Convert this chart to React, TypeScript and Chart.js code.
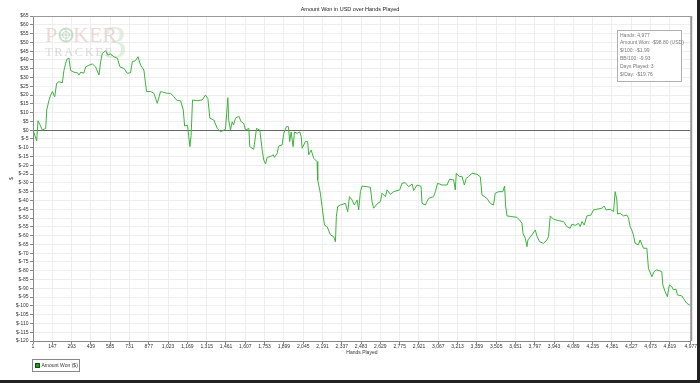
import React, { useEffect, useRef } from "react";
import { Chart, registerables } from "chart.js";

Chart.register(...registerables);

const chartTitle = "Amount Won in USD over Hands Played";
const xAxisTitle = "Hands Played";
const yAxisTitle = "$";
const legendLabel = "Amount Won ($)";
const infoLines = [
  "Hands: 4,977",
  "Amount Won: -$98.80 (USD)",
  "$/100: -$1.99",
  "BB/100: -9.93",
  "Days Played: 3",
  "$/Day: -$19.76",
];

const xTickValues = [
  1, 147, 293, 439, 585, 731, 877, 1023, 1169, 1315, 1461, 1607, 1753, 1899, 2045, 2191, 2337,
  2483, 2629, 2775, 2921, 3067, 3213, 3359, 3505, 3651, 3797, 3943, 4089, 4235, 4381, 4527, 4673,
  4819, 4977,
];

const yMin = -120;
const yMax = 65;
const yStep = 5;

const hands = [
  1, 29, 39, 54, 72, 97, 105, 122, 135, 148, 165, 180, 197, 223, 235, 256, 273, 286, 311, 337,
  349, 362, 386, 399, 424, 450, 475, 500, 513, 526, 550, 568, 588, 613, 639, 659, 689, 714, 739,
  752, 777, 795, 815, 840, 860, 891, 916, 941, 966, 991, 1017, 1042, 1067, 1092, 1117, 1138, 1148,
  1170, 1188, 1197, 1208, 1243, 1281, 1306, 1324, 1339, 1369, 1395, 1420, 1457, 1475, 1482, 1495,
  1508, 1518, 1533, 1558, 1576, 1596, 1609, 1634, 1641, 1671, 1692, 1717, 1735, 1747, 1760, 1773,
  1798, 1818, 1828, 1848, 1860, 1886, 1898, 1918, 1933, 1943, 1954, 1969, 1979, 1999, 2019, 2030,
  2037, 2062, 2079, 2087, 2105, 2125, 2150, 2155, 2175, 2188, 2206, 2226, 2251, 2276, 2289, 2296,
  2306, 2327, 2364, 2382, 2395, 2415, 2432, 2453, 2465, 2478, 2490, 2528, 2553, 2566, 2578, 2604,
  2629, 2642, 2667, 2680, 2705, 2730, 2775, 2793, 2818, 2843, 2869, 2881, 2906, 2937, 2944, 2969,
  2994, 3032, 3045, 3062, 3095, 3133, 3153, 3183, 3196, 3203, 3228, 3246, 3264, 3279, 3296, 3322,
  3360, 3385, 3398, 3435, 3460, 3485, 3498, 3523, 3555, 3569, 3576, 3587, 3624, 3662, 3682, 3700,
  3708, 3725, 3738, 3745, 3776, 3801, 3813, 3833, 3863, 3889, 3901, 3914, 3939, 3977, 4015, 4040,
  4065, 4078, 4103, 4128, 4141, 4154, 4171, 4191, 4222, 4241, 4267, 4305, 4322, 4337, 4368, 4393,
  4405, 4418, 4423, 4443, 4468, 4494, 4506, 4519, 4531, 4543, 4556, 4581, 4594, 4619, 4645, 4657,
  4683, 4700, 4720, 4758, 4766, 4783, 4800, 4815, 4833, 4846, 4866, 4876, 4909, 4921, 4947, 4967,
  4977,
];

const amountWon = [
  0, -6, 5.4, 3, 0, 1, 11.5, 17, 20, 22, 19, 26.7, 27.6, 27, 34, 40.3, 41, 34, 33, 32.7, 31.4, 33,
  32.5, 36, 37, 37.7, 36, 31.4, 39, 43.8, 45.2, 42.8, 43.4, 41.8, 41, 36, 35.2, 32.4, 32.7, 39,
  39.6, 41.8, 37, 34.2, 22, 22, 21, 15.3, 22, 21.5, 21, 21, 19, 16.8, 16.8, 11.5, 2.4, 2.8, -9.4,
  -3, 17.2, 16.8, 17.2, 20, 18, 6.8, 5.8, 1, -0.9, 0.5, 18.5, 5.8, 0, 4.8, 3, 6.8, 8, 4.8, 3.8, 0,
  1, -9.4, -10.9, 1, 0, -11.3, -17, -19.2, -15.4, -15, -14, -15.5, -13.2, -9, -8.4, -1.8, 2, 2,
  -6.5, -1, -9.4, -1, -1.8, -1, -3.7, -10.3, -6.5, -6.5, -14, -11.3, -16, -17.9, -28.3, -35.9,
  -43.5, -54, -54.9, -59.6, -60.6, -63.5, -49.2, -43.5, -42.6, -41.6, -46.4, -37.8, -39.7, -42.6,
  -39.7, -45.4, -35, -31.8, -32.2, -32.5, -40.7, -44.4, -42, -40.7, -35.9, -37.8, -34, -36.5, -35,
  -34, -30.2, -29.9, -32.2, -30.6, -34.4, -31.2, -32, -41.6, -42.6, -38.8, -37.8, -35, -30.2,
  -31.2, -31.2, -27.9, -28.3, -34, -24.5, -26.5, -26.2, -31.2, -27.4, -26.5, -24.5, -25.1, -26.5,
  -36.9, -38.8, -41.6, -42.6, -35.9, -35, -35, -31.8, -42.6, -48.8, -49.2, -49.6, -51.1, -53,
  -58.7, -61.5, -66.3, -62.5, -59.6, -56.8, -60.2, -63.5, -64.4, -62.5, -60.6, -48.8, -50.7,
  -51.5, -52, -54.9, -55.8, -53.5, -54.2, -53, -54.9, -52, -54, -48.8, -48.3, -45.4, -45, -44.4,
  -43.2, -45.4, -45, -46.4, -35, -39.7, -47.7, -47.3, -48.8, -48.3, -50.1, -54.9, -56.8, -59.6,
  -64.4, -65.3, -62.5, -67.2, -67.2, -78.6, -83.4, -80.5, -79.5, -80.5, -88.1, -91.9, -94.8, -88.1,
  -89, -90.9, -90.5, -93.8, -94.3, -95.7, -98.5, -99.5, -98.8,
];

const FONT = '"Liberation Sans", Arial, sans-serif';

const overlayPlugin = {
  id: "overlay",
  beforeDatasetsDraw(chart: any) {
    const ctx = chart.ctx as CanvasRenderingContext2D;
    ctx.save();
    // watermark "3"
    ctx.font = '46px "Liberation Serif", serif';
    ctx.fillStyle = "rgba(200,225,200,0.55)";
    ctx.textBaseline = "alphabetic";
    ctx.fillText("3", 104, 58);
    // POKER
    ctx.font = '22px "Liberation Serif", serif';
    ctx.fillStyle = "rgba(225,190,190,0.6)";
    ctx.fillText("P", 45, 42);
    ctx.fillText("KER", 73, 42);
    // chip
    ctx.strokeStyle = "rgba(170,200,170,0.6)";
    ctx.lineWidth = 2;
    ctx.beginPath();
    ctx.arc(66, 35, 6.5, 0, Math.PI * 2);
    ctx.stroke();
    ctx.lineWidth = 1;
    ctx.beginPath();
    ctx.arc(66, 35, 3.5, 0, Math.PI * 2);
    ctx.stroke();
    ctx.beginPath();
    ctx.moveTo(59.5, 35);
    ctx.lineTo(72.5, 35);
    ctx.moveTo(66, 28.5);
    ctx.lineTo(66, 41.5);
    ctx.stroke();
    // TRACKER
    ctx.font = '12.5px "Liberation Serif", serif';
    ctx.fillStyle = "rgba(200,200,200,0.65)";
    (ctx as any).letterSpacing = "1.6px";
    ctx.fillText("TRACKER", 45, 55.5);
    (ctx as any).letterSpacing = "0px";
    ctx.restore();
  },
  afterDraw(chart: any) {
    const ctx = chart.ctx as CanvasRenderingContext2D;
    const area = chart.chartArea;
    ctx.save();
    // top & right border of plot
    ctx.strokeStyle = "#999";
    ctx.lineWidth = 1;
    ctx.beginPath();
    ctx.moveTo(area.left, area.top + 0.5);
    ctx.lineTo(area.right, area.top + 0.5);
    ctx.stroke();
    ctx.lineWidth = 2;
    ctx.beginPath();
    ctx.moveTo(area.right + 0.5, area.top);
    ctx.lineTo(area.right + 0.5, area.bottom);
    ctx.stroke();

    // title
    ctx.font = `5.5px ${FONT}`;
    ctx.fillStyle = "#222";
    ctx.textAlign = "center";
    ctx.textBaseline = "middle";
    ctx.fillText(chartTitle, 350, 9);

    // info box
    ctx.fillStyle = "#fff";
    ctx.fillRect(617.5, 30.5, 64, 51);
    ctx.strokeStyle = "#b0b0b0";
    ctx.lineWidth = 1;
    ctx.strokeRect(617.5, 30.5, 64, 51);
    ctx.font = `5px ${FONT}`;
    ctx.fillStyle = "#777";
    ctx.textAlign = "left";
    infoLines.forEach((t, i) => {
      ctx.fillText(t, 620, 35.2 + i * 7.85);
    });

    // legend
    ctx.fillStyle = "#fff";
    ctx.fillRect(32.5, 359.5, 47, 12);
    ctx.strokeStyle = "#888";
    ctx.strokeRect(32.5, 359.5, 47, 12);
    ctx.fillStyle = "#1f9a1f";
    ctx.fillRect(35.5, 363.5, 4, 4);
    ctx.strokeStyle = "#0b5a0b";
    ctx.strokeRect(35.5, 363.5, 4, 4);
    ctx.fillStyle = "#333";
    ctx.font = `5px ${FONT}`;
    ctx.fillText(legendLabel, 41.5, 365.8);
    ctx.restore();
  },
};

export default function App() {
  const canvasRef = useRef<HTMLCanvasElement | null>(null);

  useEffect(() => {
    document.body.style.margin = "0";
    const canvas = canvasRef.current;
    if (!canvas) return;
    const points = hands.map((h, i) => ({ x: h, y: amountWon[i] }));
    const chart = new Chart(canvas, {
      type: "line",
      data: {
        datasets: [
          {
            label: legendLabel,
            data: points,
            borderColor: "#3cb43c",
            borderWidth: 1,
            pointRadius: 0,
            tension: 0,
            fill: false,
          },
        ],
      },
      options: {
        responsive: false,
        animation: false,
        devicePixelRatio: 1,
        layout: { padding: { top: 16, right: 6, bottom: 23, left: 0 } },
        plugins: {
          legend: { display: false },
          title: { display: false },
          tooltip: { enabled: false },
        },
        scales: {
          x: {
            type: "linear",
            min: 1,
            max: 4977,
            afterBuildTicks(scale: any) {
              scale.ticks = xTickValues.map((v) => ({ value: v }));
            },
            afterFit(scale: any) {
              scale.height = 16;
            },
            ticks: {
              autoSkip: false,
              maxRotation: 0,
              minRotation: 0,
              padding: 0,
              color: "#333",
              font: { family: FONT, size: 5 },
              callback: (v: any) => Number(v).toLocaleString("en-US"),
            },
            grid: {
              color: "#eeeeee",
              tickColor: "#888",
              tickLength: 3,
              lineWidth: 1,
            },
            border: { color: "#888", width: 1 },
            title: {
              display: true,
              text: xAxisTitle,
              color: "#333",
              font: { family: FONT, size: 5 },
              padding: { top: 0, bottom: 1 },
            },
          },
          y: {
            type: "linear",
            min: yMin,
            max: yMax,
            afterFit(scale: any) {
              scale.width = 33;
            },
            ticks: {
              stepSize: yStep,
              autoSkip: false,
              padding: 1.5,
              color: "#333",
              font: { family: FONT, size: 5 },
              callback: (v: any) => "$" + v,
            },
            grid: {
              color: (c: any) => (c.tick && c.tick.value === 0 ? "#666" : "#eeeeee"),
              tickColor: "#888",
              tickLength: 3,
              lineWidth: 1,
            },
            border: { color: "#888", width: 1 },
            title: {
              display: true,
              text: yAxisTitle,
              color: "#333",
              font: { family: FONT, size: 5 },
              padding: { top: 9, bottom: 0 },
            },
          },
        },
      },
      plugins: [overlayPlugin],
    } as any);
    return () => chart.destroy();
  }, []);

  return (
    <div
      style={{
        width: 697,
        height: 380,
        borderRight: "3px solid #222",
        borderBottom: "3px solid #222",
        background: "#fff",
      }}
    >
      <canvas ref={canvasRef} width={697} height={380} style={{ width: 697, height: 380, display: "block" }} />
    </div>
  );
}
